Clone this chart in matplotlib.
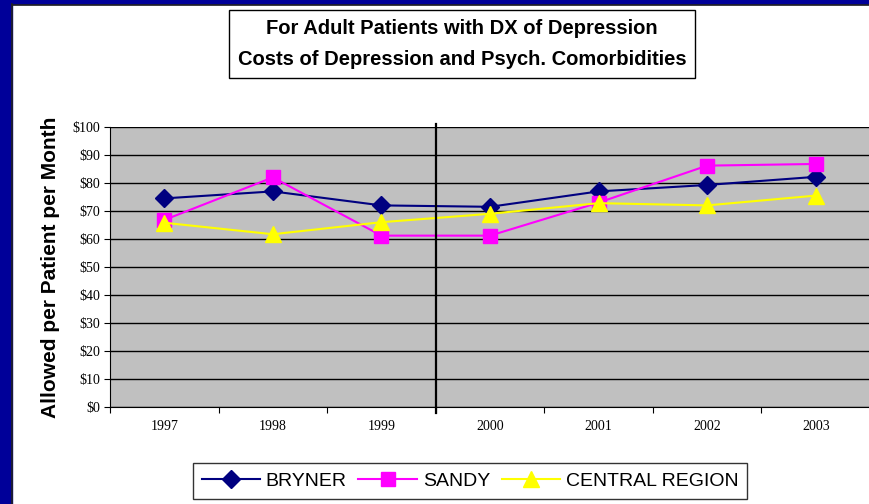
import matplotlib
matplotlib.use("Agg")
import matplotlib.pyplot as plt
from matplotlib.patches import Rectangle
from matplotlib.lines import Line2D

years = ["1997", "1998", "1999", "2000", "2001", "2002", "2003"]
bryner = [74.5, 77.0, 72.0, 71.5, 77.0, 79.3, 82.2]
sandy = [66.8, 82.0, 61.2, 61.2, 73.0, 86.2, 86.8]
central = [65.8, 61.7, 66.0, 69.0, 72.8, 72.0, 75.5]
yticks = [0, 10, 20, 30, 40, 50, 60, 70, 80, 90, 100]
ytick_labels = ["$0", "$10", "$20", "$30", "$40", "$50", "$60", "$70", "$80", "$90", "$100"]

W, H = 869, 504
fig = plt.figure(figsize=(W / 100, H / 100), dpi=100)
fig.patch.set_facecolor("white")

# blue frame on left and top
fig.patches.append(Rectangle((0, 0), 12 / W, 1, transform=fig.transFigure, color="#000099", zorder=0))
fig.patches.append(Rectangle((0, 1 - 4 / H), 1, 4 / H, transform=fig.transFigure, color="#000099", zorder=0))
fig.lines.append(Line2D([12 / W, 12 / W], [0, 1 - 4 / H], transform=fig.transFigure, color="#222222", lw=1.2))
fig.lines.append(Line2D([12 / W, 1], [1 - 4.5 / H, 1 - 4.5 / H], transform=fig.transFigure, color="#222222", lw=1.2))

left, right, top, bottom = 110, 870, 127, 407
ax = fig.add_axes([left / W, (H - bottom) / H, (right - left) / W, (bottom - top) / H])
ax.set_facecolor("#C0C0C0")

x = list(range(len(years)))
ax.plot(x, bryner, color="#000080", lw=1.5, marker="D", ms=9, mfc="#000080", mec="#000080", zorder=3)
ax.plot(x, sandy, color="#FF00FF", lw=1.5, marker="s", ms=10, mfc="#FF00FF", mec="#FF00FF", zorder=4)
ax.plot(x, central, color="#FFFF00", lw=1.5, marker="^", ms=12, mfc="#FFFF00", mec="#FFFF00", zorder=5)

ax.set_xlim(-0.5, len(years) - 0.5)
ax.set_ylim(0, 100)
ax.set_yticks(yticks)
ax.set_yticklabels(ytick_labels, fontfamily="Liberation Serif", fontsize=10)
ax.yaxis.grid(True, color="black", lw=1)
ax.set_axisbelow(True)

ax.set_xticks([i - 0.5 for i in range(len(years) + 1)])
ax.set_xticklabels([])
ax.set_xticks(x, minor=True)
ax.set_xticklabels(years, minor=True, fontfamily="Liberation Serif", fontsize=10)
ax.tick_params(axis="x", which="minor", length=0, pad=9)
ax.tick_params(axis="x", which="major", length=4, direction="out", color="black")
ax.tick_params(axis="y", length=4, direction="out", pad=3)

for s in ["top", "right"]:
    ax.spines[s].set_visible(False)
ax.spines["left"].set_color("black")
ax.spines["bottom"].set_color("black")

# vertical divider line
ax.plot([2.5, 2.5], [101, -2], color="black", lw=1.6, clip_on=False, zorder=6)

ax.set_ylabel("Allowed per Patient per Month", fontfamily="Liberation Sans", fontweight="bold", fontsize=15, labelpad=9)

# title box
fig.text(462 / W, 1 - 44 / H, "For Adult Patients with DX of Depression\nCosts of Depression and Psych. Comorbidities",
         ha="center", va="center", fontfamily="Liberation Sans", fontweight="bold", fontsize=14.5, linespacing=1.75,
         bbox=dict(boxstyle="square,pad=0.45", fc="white", ec="black", lw=1))

handles = [
    Line2D([], [], color="#000080", lw=1.5, marker="D", ms=9, mfc="#000080", mec="#000080"),
    Line2D([], [], color="#FF00FF", lw=1.5, marker="s", ms=10, mfc="#FF00FF", mec="#FF00FF"),
    Line2D([], [], color="#FFFF00", lw=1.5, marker="^", ms=12, mfc="#FFFF00", mec="#FFFF00"),
]
leg = fig.legend(handles, ["BRYNER", "SANDY", "CENTRAL REGION"], loc="center", bbox_to_anchor=(470 / W, 1 - 481 / H),
                 ncol=3, frameon=True, fancybox=False, edgecolor="black", handlelength=3, handletextpad=0.3,
                 columnspacing=0.6, borderpad=0.45, prop={"family": "Liberation Sans", "size": 14})
leg.get_frame().set_linewidth(1)

fig.savefig("out.png", dpi=100, facecolor="white")
